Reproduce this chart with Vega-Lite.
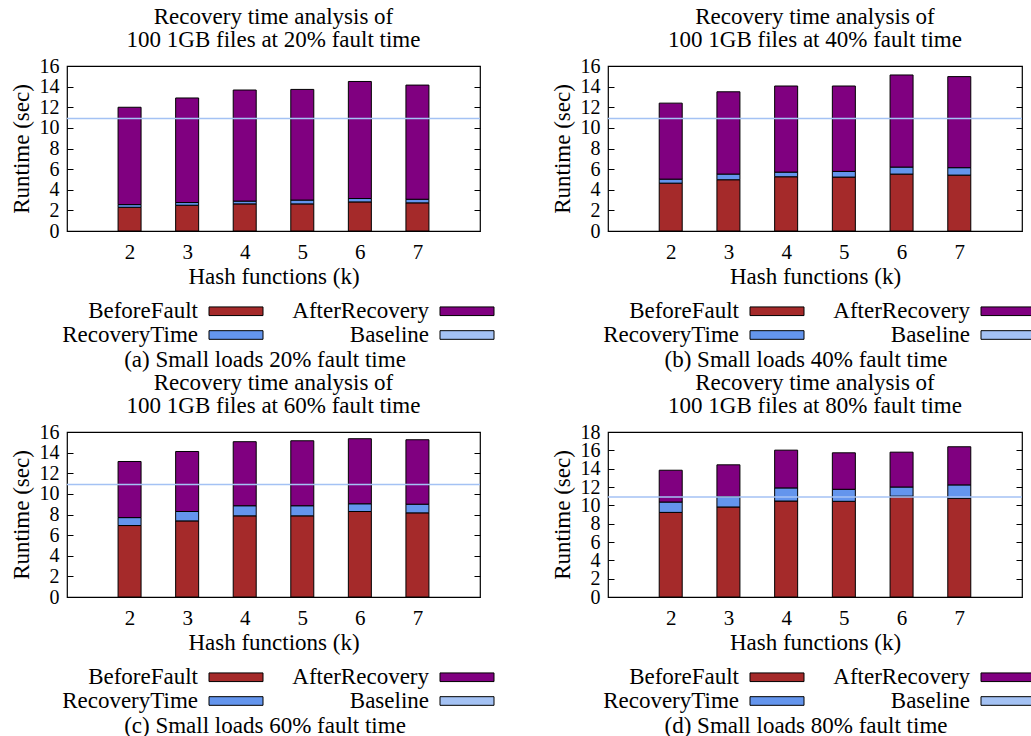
{
  "$schema": "https://vega.github.io/schema/vega-lite/v6.json",
  "padding": {"left": 9, "top": 5, "right": 0, "bottom": 0},
  "background": "white",
  "bounds": "flush",
  "columns": 2,
  "spacing": {"row": 201, "column": 128},
  "resolve": {"scale": {"color": "independent", "y": "independent", "x": "independent"}, "legend": {"color": "independent"}, "axis": {"y": "independent", "x": "independent"}},
  "datasets": {
    "bars": [
      {"panel": "a", "k": 2, "series": "BeforeFault", "ord": 1, "value": 2.3},
      {"panel": "a", "k": 2, "series": "RecoveryTime", "ord": 2, "value": 0.26},
      {"panel": "a", "k": 2, "series": "AfterRecovery", "ord": 3, "value": 9.44},
      {"panel": "a", "k": 3, "series": "BeforeFault", "ord": 1, "value": 2.5},
      {"panel": "a", "k": 3, "series": "RecoveryTime", "ord": 2, "value": 0.26},
      {"panel": "a", "k": 3, "series": "AfterRecovery", "ord": 3, "value": 10.14},
      {"panel": "a", "k": 4, "series": "BeforeFault", "ord": 1, "value": 2.63},
      {"panel": "a", "k": 4, "series": "RecoveryTime", "ord": 2, "value": 0.27},
      {"panel": "a", "k": 4, "series": "AfterRecovery", "ord": 3, "value": 10.77},
      {"panel": "a", "k": 5, "series": "BeforeFault", "ord": 1, "value": 2.63},
      {"panel": "a", "k": 5, "series": "RecoveryTime", "ord": 2, "value": 0.37},
      {"panel": "a", "k": 5, "series": "AfterRecovery", "ord": 3, "value": 10.73},
      {"panel": "a", "k": 6, "series": "BeforeFault", "ord": 1, "value": 2.82},
      {"panel": "a", "k": 6, "series": "RecoveryTime", "ord": 2, "value": 0.33},
      {"panel": "a", "k": 6, "series": "AfterRecovery", "ord": 3, "value": 11.35},
      {"panel": "a", "k": 7, "series": "BeforeFault", "ord": 1, "value": 2.73},
      {"panel": "a", "k": 7, "series": "RecoveryTime", "ord": 2, "value": 0.35},
      {"panel": "a", "k": 7, "series": "AfterRecovery", "ord": 3, "value": 11.07},

      {"panel": "b", "k": 2, "series": "BeforeFault", "ord": 1, "value": 4.64},
      {"panel": "b", "k": 2, "series": "RecoveryTime", "ord": 2, "value": 0.39},
      {"panel": "b", "k": 2, "series": "AfterRecovery", "ord": 3, "value": 7.37},
      {"panel": "b", "k": 3, "series": "BeforeFault", "ord": 1, "value": 4.97},
      {"panel": "b", "k": 3, "series": "RecoveryTime", "ord": 2, "value": 0.55},
      {"panel": "b", "k": 3, "series": "AfterRecovery", "ord": 3, "value": 7.98},
      {"panel": "b", "k": 4, "series": "BeforeFault", "ord": 1, "value": 5.26},
      {"panel": "b", "k": 4, "series": "RecoveryTime", "ord": 2, "value": 0.45},
      {"panel": "b", "k": 4, "series": "AfterRecovery", "ord": 3, "value": 8.35},
      {"panel": "b", "k": 5, "series": "BeforeFault", "ord": 1, "value": 5.23},
      {"panel": "b", "k": 5, "series": "RecoveryTime", "ord": 2, "value": 0.55},
      {"panel": "b", "k": 5, "series": "AfterRecovery", "ord": 3, "value": 8.28},
      {"panel": "b", "k": 6, "series": "BeforeFault", "ord": 1, "value": 5.52},
      {"panel": "b", "k": 6, "series": "RecoveryTime", "ord": 2, "value": 0.68},
      {"panel": "b", "k": 6, "series": "AfterRecovery", "ord": 3, "value": 8.93},
      {"panel": "b", "k": 7, "series": "BeforeFault", "ord": 1, "value": 5.42},
      {"panel": "b", "k": 7, "series": "RecoveryTime", "ord": 2, "value": 0.72},
      {"panel": "b", "k": 7, "series": "AfterRecovery", "ord": 3, "value": 8.83},

      {"panel": "c", "k": 2, "series": "BeforeFault", "ord": 1, "value": 6.93},
      {"panel": "c", "k": 2, "series": "RecoveryTime", "ord": 2, "value": 0.77},
      {"panel": "c", "k": 2, "series": "AfterRecovery", "ord": 3, "value": 5.44},
      {"panel": "c", "k": 3, "series": "BeforeFault", "ord": 1, "value": 7.38},
      {"panel": "c", "k": 3, "series": "RecoveryTime", "ord": 2, "value": 0.91},
      {"panel": "c", "k": 3, "series": "AfterRecovery", "ord": 3, "value": 5.82},
      {"panel": "c", "k": 4, "series": "BeforeFault", "ord": 1, "value": 7.87},
      {"panel": "c", "k": 4, "series": "RecoveryTime", "ord": 2, "value": 0.98},
      {"panel": "c", "k": 4, "series": "AfterRecovery", "ord": 3, "value": 6.21},
      {"panel": "c", "k": 5, "series": "BeforeFault", "ord": 1, "value": 7.87},
      {"panel": "c", "k": 5, "series": "RecoveryTime", "ord": 2, "value": 0.98},
      {"panel": "c", "k": 5, "series": "AfterRecovery", "ord": 3, "value": 6.3},
      {"panel": "c", "k": 6, "series": "BeforeFault", "ord": 1, "value": 8.29},
      {"panel": "c", "k": 6, "series": "RecoveryTime", "ord": 2, "value": 0.75},
      {"panel": "c", "k": 6, "series": "AfterRecovery", "ord": 3, "value": 6.31},
      {"panel": "c", "k": 7, "series": "BeforeFault", "ord": 1, "value": 8.16},
      {"panel": "c", "k": 7, "series": "RecoveryTime", "ord": 2, "value": 0.84},
      {"panel": "c", "k": 7, "series": "AfterRecovery", "ord": 3, "value": 6.25},

      {"panel": "d", "k": 2, "series": "BeforeFault", "ord": 1, "value": 9.23},
      {"panel": "d", "k": 2, "series": "RecoveryTime", "ord": 2, "value": 1.13},
      {"panel": "d", "k": 2, "series": "AfterRecovery", "ord": 3, "value": 3.47},
      {"panel": "d", "k": 3, "series": "BeforeFault", "ord": 1, "value": 9.82},
      {"panel": "d", "k": 3, "series": "RecoveryTime", "ord": 2, "value": 1.13},
      {"panel": "d", "k": 3, "series": "AfterRecovery", "ord": 3, "value": 3.47},
      {"panel": "d", "k": 4, "series": "BeforeFault", "ord": 1, "value": 10.47},
      {"panel": "d", "k": 4, "series": "RecoveryTime", "ord": 2, "value": 1.43},
      {"panel": "d", "k": 4, "series": "AfterRecovery", "ord": 3, "value": 4.12},
      {"panel": "d", "k": 5, "series": "BeforeFault", "ord": 1, "value": 10.44},
      {"panel": "d", "k": 5, "series": "RecoveryTime", "ord": 2, "value": 1.31},
      {"panel": "d", "k": 5, "series": "AfterRecovery", "ord": 3, "value": 3.98},
      {"panel": "d", "k": 6, "series": "BeforeFault", "ord": 1, "value": 11.0},
      {"panel": "d", "k": 6, "series": "RecoveryTime", "ord": 2, "value": 1.0},
      {"panel": "d", "k": 6, "series": "AfterRecovery", "ord": 3, "value": 3.8},
      {"panel": "d", "k": 7, "series": "BeforeFault", "ord": 1, "value": 10.77},
      {"panel": "d", "k": 7, "series": "RecoveryTime", "ord": 2, "value": 1.46},
      {"panel": "d", "k": 7, "series": "AfterRecovery", "ord": 3, "value": 4.16}
    ],
    "baseline": [
      {"panel": "a", "series": "Baseline", "value": 10.9},
      {"panel": "b", "series": "Baseline", "value": 10.9},
      {"panel": "c", "series": "Baseline", "value": 10.9},
      {"panel": "d", "series": "Baseline", "value": 10.9}
    ]
  },
  "concat": [
    {
      "width": 413, "height": 165,
      "title": {"text": ["Recovery time analysis of", "100 1GB files at 20% fault time"]},
      "layer": [
        {
          "data": {"name": "bars"},
          "transform": [{"filter": "datum.panel === 'a'"}],
          "mark": {"type": "bar", "size": 23, "stroke": "black", "strokeWidth": 1},
          "encoding": {
            "x": {"field": "k", "type": "quantitative", "scale": {"domain": [1, 8]}, "axis": {"values": [2, 3, 4, 5, 6, 7], "title": "Hash functions (k)"}},
            "y": {"field": "value", "type": "quantitative", "stack": "zero", "scale": {"domain": [0, 16]}, "axis": {"values": [0, 2, 4, 6, 8, 10, 12, 14, 16], "title": "Runtime (sec)"}},
            "color": {"field": "series", "type": "nominal",
              "scale": {"domain": ["BeforeFault", "AfterRecovery", "RecoveryTime", "Baseline"], "range": ["#a52a2a", "#800080", "#6495ed", "#a4c2f4"]},
              "legend": {"title": "(a) Small loads 20% fault time", "orient": "none", "direction": "horizontal", "legendX": -33, "legendY": 233.5, "columns": 2, "padding": 0, "columnPadding": 0, "rowPadding": 0, "labelAlign": "right", "labelOffset": -49.5, "symbolOffset": 190.5, "symbolSize": 324, "titleOrient": "bottom", "titleAnchor": "middle", "titlePadding": 1,
                "symbolType": "M-3,-0.48H3V0.48H-3Z", "symbolStrokeColor": "black", "symbolStrokeWidth": 1}
            },
            "order": {"field": "ord", "type": "quantitative"}
          }
        },
        {
          "data": {"name": "baseline"},
          "transform": [{"filter": "datum.panel === 'a'"}],
          "mark": {"type": "rule", "strokeWidth": 1.5, "color": "#a4c2f4"},
          "encoding": {
            "y": {"field": "value", "type": "quantitative", "stack": null, "axis": {"orient": "right", "values": [0, 2, 4, 6, 8, 10, 12, 14, 16], "labels": false, "title": null}}
          }
        }
      ],
      "resolve": {"axis": {"y": "independent"}}
    },
    {
      "width": 414, "height": 165,
      "title": {"text": ["Recovery time analysis of", "100 1GB files at 40% fault time"]},
      "layer": [
        {
          "data": {"name": "bars"},
          "transform": [{"filter": "datum.panel === 'b'"}],
          "mark": {"type": "bar", "size": 23, "stroke": "black", "strokeWidth": 1},
          "encoding": {
            "x": {"field": "k", "type": "quantitative", "scale": {"domain": [1, 8]}, "axis": {"values": [2, 3, 4, 5, 6, 7], "title": "Hash functions (k)"}},
            "y": {"field": "value", "type": "quantitative", "stack": "zero", "scale": {"domain": [0, 16]}, "axis": {"values": [0, 2, 4, 6, 8, 10, 12, 14, 16], "title": "Runtime (sec)"}},
            "color": {"field": "series", "type": "nominal",
              "scale": {"domain": ["BeforeFault", "AfterRecovery", "RecoveryTime", "Baseline"], "range": ["#a52a2a", "#800080", "#6495ed", "#a4c2f4"]},
              "legend": {"title": "(b) Small loads 40% fault time", "orient": "none", "direction": "horizontal", "legendX": -33, "legendY": 233.5, "columns": 2, "padding": 0, "columnPadding": 0, "rowPadding": 0, "labelAlign": "right", "labelOffset": -49.5, "symbolOffset": 190.5, "symbolSize": 324, "titleOrient": "bottom", "titleAnchor": "middle", "titlePadding": 1,
                "symbolType": "M-3,-0.48H3V0.48H-3Z", "symbolStrokeColor": "black", "symbolStrokeWidth": 1}
            },
            "order": {"field": "ord", "type": "quantitative"}
          }
        },
        {
          "data": {"name": "baseline"},
          "transform": [{"filter": "datum.panel === 'b'"}],
          "mark": {"type": "rule", "strokeWidth": 1.5, "color": "#a4c2f4"},
          "encoding": {
            "y": {"field": "value", "type": "quantitative", "stack": null, "axis": {"orient": "right", "values": [0, 2, 4, 6, 8, 10, 12, 14, 16], "labels": false, "title": null}}
          }
        }
      ],
      "resolve": {"axis": {"y": "independent"}}
    },
    {
      "width": 413, "height": 165,
      "title": {"text": ["Recovery time analysis of", "100 1GB files at 60% fault time"]},
      "layer": [
        {
          "data": {"name": "bars"},
          "transform": [{"filter": "datum.panel === 'c'"}],
          "mark": {"type": "bar", "size": 23, "stroke": "black", "strokeWidth": 1},
          "encoding": {
            "x": {"field": "k", "type": "quantitative", "scale": {"domain": [1, 8]}, "axis": {"values": [2, 3, 4, 5, 6, 7], "title": "Hash functions (k)"}},
            "y": {"field": "value", "type": "quantitative", "stack": "zero", "scale": {"domain": [0, 16]}, "axis": {"values": [0, 2, 4, 6, 8, 10, 12, 14, 16], "title": "Runtime (sec)"}},
            "color": {"field": "series", "type": "nominal",
              "scale": {"domain": ["BeforeFault", "AfterRecovery", "RecoveryTime", "Baseline"], "range": ["#a52a2a", "#800080", "#6495ed", "#a4c2f4"]},
              "legend": {"title": "(c) Small loads 60% fault time", "orient": "none", "direction": "horizontal", "legendX": -33, "legendY": 233.5, "columns": 2, "padding": 0, "columnPadding": 0, "rowPadding": 0, "labelAlign": "right", "labelOffset": -49.5, "symbolOffset": 190.5, "symbolSize": 324, "titleOrient": "bottom", "titleAnchor": "middle", "titlePadding": 1,
                "symbolType": "M-3,-0.48H3V0.48H-3Z", "symbolStrokeColor": "black", "symbolStrokeWidth": 1}
            },
            "order": {"field": "ord", "type": "quantitative"}
          }
        },
        {
          "data": {"name": "baseline"},
          "transform": [{"filter": "datum.panel === 'c'"}],
          "mark": {"type": "rule", "strokeWidth": 1.5, "color": "#a4c2f4"},
          "encoding": {
            "y": {"field": "value", "type": "quantitative", "stack": null, "axis": {"orient": "right", "values": [0, 2, 4, 6, 8, 10, 12, 14, 16], "labels": false, "title": null}}
          }
        }
      ],
      "resolve": {"axis": {"y": "independent"}}
    },
    {
      "width": 414, "height": 165,
      "title": {"text": ["Recovery time analysis of", "100 1GB files at 80% fault time"]},
      "layer": [
        {
          "data": {"name": "bars"},
          "transform": [{"filter": "datum.panel === 'd'"}],
          "mark": {"type": "bar", "size": 23, "stroke": "black", "strokeWidth": 1},
          "encoding": {
            "x": {"field": "k", "type": "quantitative", "scale": {"domain": [1, 8]}, "axis": {"values": [2, 3, 4, 5, 6, 7], "title": "Hash functions (k)"}},
            "y": {"field": "value", "type": "quantitative", "stack": "zero", "scale": {"domain": [0, 18]}, "axis": {"values": [0, 2, 4, 6, 8, 10, 12, 14, 16, 18], "title": "Runtime (sec)"}},
            "color": {"field": "series", "type": "nominal",
              "scale": {"domain": ["BeforeFault", "AfterRecovery", "RecoveryTime", "Baseline"], "range": ["#a52a2a", "#800080", "#6495ed", "#a4c2f4"]},
              "legend": {"title": "(d) Small loads 80% fault time", "orient": "none", "direction": "horizontal", "legendX": -33, "legendY": 233.5, "columns": 2, "padding": 0, "columnPadding": 0, "rowPadding": 0, "labelAlign": "right", "labelOffset": -49.5, "symbolOffset": 190.5, "symbolSize": 324, "titleOrient": "bottom", "titleAnchor": "middle", "titlePadding": 1,
                "symbolType": "M-3,-0.48H3V0.48H-3Z", "symbolStrokeColor": "black", "symbolStrokeWidth": 1}
            },
            "order": {"field": "ord", "type": "quantitative"}
          }
        },
        {
          "data": {"name": "baseline"},
          "transform": [{"filter": "datum.panel === 'd'"}],
          "mark": {"type": "rule", "strokeWidth": 1.5, "color": "#a4c2f4"},
          "encoding": {
            "y": {"field": "value", "type": "quantitative", "stack": null, "axis": {"orient": "right", "values": [0, 2, 4, 6, 8, 10, 12, 14, 16, 18], "labels": false, "title": null}}
          }
        }
      ],
      "resolve": {"axis": {"y": "independent"}}
    }
  ],
  "config": {
    "font": "Liberation Serif",
    "view": {"stroke": "black", "strokeWidth": 1.2},
    "axis": {"grid": false, "domain": false, "labelFont": "Liberation Serif", "labelColor": "black", "titleFont": "Liberation Serif", "titleFontSize": 23, "titleFontWeight": "normal", "titleColor": "black", "tickColor": "black", "labelOverlap": false},
    "axisX": {"ticks": false, "labelPadding": 10, "titlePadding": 3, "labelFontSize": 21},
    "axisY": {"tickSize": -6, "labelPadding": 14, "titlePadding": 6, "labelFontSize": 20},
    "title": {"font": "Liberation Serif", "fontSize": 23, "fontWeight": "normal", "color": "black", "lineHeight": 23, "offset": 0, "anchor": "middle"},
    "legend": {"labelFont": "Liberation Serif", "labelFontSize": 23, "labelColor": "black", "labelLimit": 0, "titleFont": "Liberation Serif", "titleFontSize": 23, "titleFontWeight": "normal", "titleColor": "black", "titleLimit": 0}
  }
}
